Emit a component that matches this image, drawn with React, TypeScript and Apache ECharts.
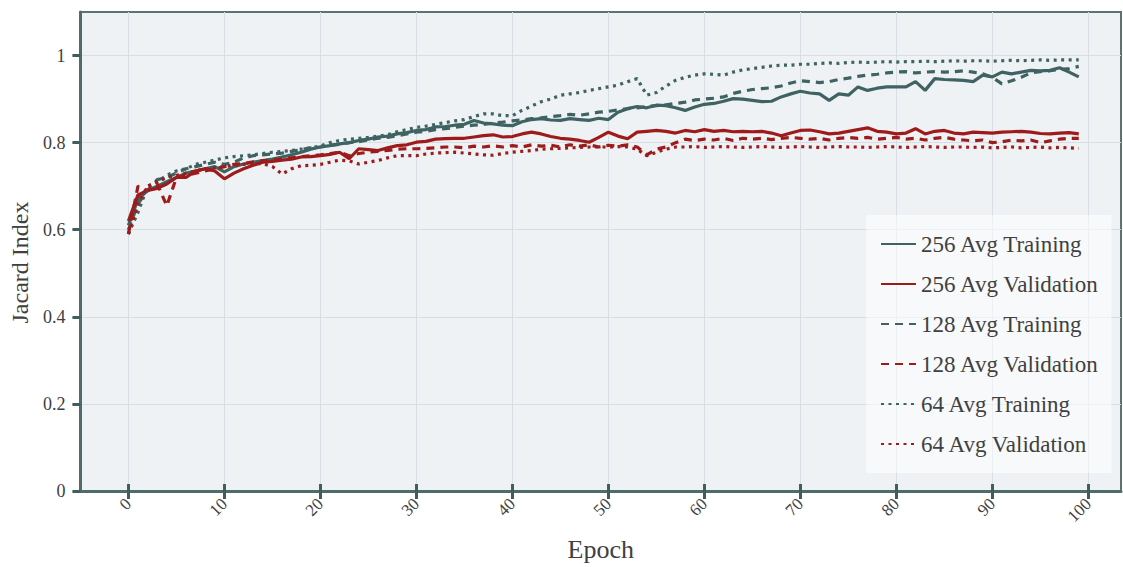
import React, { useEffect, useRef } from "react";
import * as echarts from "echarts";

const SERIES_NAMES = [
  "256 Avg Training",
  "256 Avg Validation",
  "128 Avg Training",
  "128 Avg Validation",
  "64 Avg Training",
  "64 Avg Validation",
];

const X_TICKS = [0, 10, 20, 30, 40, 50, 60, 70, 80, 90, 100];
const Y_TICKS = [0, 0.2, 0.4, 0.6, 0.8, 1];

const train256 = [
  0.61, 0.67, 0.69, 0.7, 0.71, 0.72, 0.73, 0.735, 0.74, 0.745,
  0.733, 0.745, 0.751, 0.755, 0.759, 0.762, 0.767, 0.772, 0.778, 0.785,
  0.79, 0.793, 0.797, 0.8, 0.805, 0.808, 0.813, 0.815, 0.82, 0.823,
  0.828, 0.83, 0.836, 0.837, 0.84, 0.842, 0.851, 0.845, 0.843, 0.84,
  0.839, 0.848, 0.853, 0.855, 0.852, 0.851, 0.855, 0.853, 0.851, 0.856,
  0.853, 0.87, 0.878, 0.883, 0.88, 0.886, 0.885, 0.88, 0.874, 0.882,
  0.888, 0.89, 0.895, 0.901, 0.9, 0.897, 0.894, 0.895, 0.905, 0.912,
  0.918, 0.914, 0.912, 0.897, 0.912, 0.909, 0.928, 0.92, 0.925, 0.928,
  0.928, 0.928, 0.94, 0.92, 0.947, 0.945, 0.944, 0.943, 0.94, 0.955,
  0.951, 0.962, 0.958, 0.962, 0.966, 0.965, 0.966, 0.972, 0.962, 0.951,
];

const val256 = [
  0.62, 0.68, 0.69, 0.695, 0.705, 0.72, 0.72, 0.735, 0.74, 0.735,
  0.717, 0.73, 0.74, 0.748, 0.755, 0.757, 0.76, 0.762, 0.767, 0.768,
  0.77, 0.773, 0.778, 0.763, 0.786, 0.784, 0.782, 0.788, 0.793, 0.795,
  0.801, 0.803, 0.808, 0.809, 0.81, 0.81, 0.813, 0.816, 0.818, 0.813,
  0.814, 0.82, 0.824, 0.82, 0.814, 0.81, 0.808, 0.805, 0.801, 0.812,
  0.824, 0.815, 0.809, 0.824, 0.826, 0.828, 0.826, 0.822, 0.828, 0.825,
  0.83, 0.826, 0.828, 0.825, 0.826, 0.825, 0.826, 0.822, 0.816, 0.822,
  0.828, 0.829, 0.825, 0.82, 0.822, 0.826, 0.83, 0.834, 0.826, 0.824,
  0.82, 0.822, 0.832, 0.82, 0.826, 0.828, 0.822, 0.82, 0.824, 0.823,
  0.822, 0.824, 0.825, 0.826, 0.824, 0.821, 0.82, 0.822, 0.823, 0.82,
];

const train128 = [
  0.6, 0.66, 0.69, 0.715, 0.72, 0.73, 0.74, 0.745, 0.75, 0.755,
  0.75, 0.755, 0.765, 0.77, 0.772, 0.774, 0.776, 0.78, 0.784, 0.788,
  0.79, 0.794, 0.796, 0.8, 0.802, 0.806, 0.81, 0.812, 0.816, 0.82,
  0.824, 0.826, 0.83, 0.832, 0.835, 0.838, 0.84, 0.842, 0.845, 0.847,
  0.85, 0.852, 0.855, 0.857, 0.86, 0.862, 0.865, 0.863, 0.866, 0.87,
  0.872, 0.875, 0.878, 0.88, 0.883, 0.885, 0.887, 0.89, 0.893, 0.898,
  0.9, 0.902, 0.905, 0.913, 0.918, 0.922, 0.924, 0.926, 0.93, 0.937,
  0.942, 0.94, 0.938, 0.94, 0.945, 0.948, 0.952, 0.955, 0.957, 0.96,
  0.962, 0.963, 0.96, 0.962, 0.963, 0.962, 0.963, 0.965, 0.962, 0.958,
  0.95, 0.935, 0.942, 0.95, 0.96, 0.963, 0.965, 0.968, 0.97, 0.975,
];

const val128 = [
  0.59, 0.7, 0.69, 0.705, 0.655, 0.72, 0.725, 0.73, 0.735, 0.74,
  0.745, 0.75, 0.752, 0.756, 0.758, 0.76, 0.762, 0.765, 0.768, 0.77,
  0.772, 0.775, 0.778, 0.77, 0.775, 0.778, 0.78, 0.782, 0.785, 0.786,
  0.786, 0.787, 0.788, 0.79, 0.79, 0.788, 0.792, 0.79, 0.793, 0.79,
  0.793, 0.79, 0.795, 0.792, 0.794, 0.79, 0.795, 0.792, 0.795, 0.79,
  0.794, 0.792, 0.795, 0.79, 0.772, 0.785, 0.79, 0.8, 0.808, 0.805,
  0.808, 0.806, 0.81, 0.805, 0.81, 0.808, 0.81, 0.807, 0.81, 0.812,
  0.81, 0.808, 0.81, 0.806, 0.81, 0.812, 0.81, 0.812, 0.808, 0.81,
  0.812, 0.808, 0.81, 0.806, 0.81, 0.812, 0.808, 0.806, 0.804, 0.806,
  0.8, 0.802, 0.806, 0.804, 0.806, 0.8, 0.804, 0.808, 0.81, 0.81,
];

const train64 = [
  0.59, 0.64, 0.7, 0.71, 0.725, 0.735, 0.74, 0.75, 0.755, 0.76,
  0.765, 0.768, 0.77, 0.772, 0.775, 0.778, 0.78, 0.782, 0.785, 0.788,
  0.792, 0.8, 0.805, 0.808, 0.81, 0.812, 0.815, 0.818, 0.825, 0.83,
  0.835, 0.838, 0.842, 0.846, 0.85, 0.853, 0.86, 0.866, 0.866, 0.862,
  0.862, 0.874, 0.884, 0.894, 0.9, 0.909, 0.912, 0.915, 0.92, 0.924,
  0.928, 0.932, 0.94, 0.947, 0.909, 0.915, 0.93, 0.943, 0.95, 0.955,
  0.958, 0.957, 0.955, 0.962, 0.967, 0.97, 0.973, 0.976, 0.978, 0.978,
  0.98, 0.98, 0.982, 0.983, 0.982, 0.984, 0.985, 0.984, 0.985, 0.986,
  0.985, 0.986, 0.986, 0.987, 0.986, 0.987, 0.988, 0.987, 0.988, 0.988,
  0.987, 0.988, 0.989, 0.988, 0.989, 0.99, 0.989, 0.99, 0.99, 0.99,
];

const val64 = [
  0.59, 0.66, 0.7, 0.71, 0.72, 0.725, 0.73, 0.735, 0.74, 0.742,
  0.745, 0.748, 0.75, 0.752, 0.752, 0.745, 0.728, 0.74, 0.747, 0.748,
  0.75, 0.755, 0.76, 0.758, 0.751, 0.755, 0.759, 0.765, 0.77, 0.77,
  0.77, 0.774, 0.776, 0.777, 0.778, 0.776, 0.774, 0.772, 0.771, 0.775,
  0.778, 0.78, 0.782, 0.785, 0.786, 0.787, 0.788, 0.789, 0.79, 0.79,
  0.79, 0.791, 0.79, 0.785, 0.77, 0.778, 0.785, 0.79, 0.79, 0.791,
  0.789, 0.79, 0.791, 0.79, 0.789, 0.79, 0.791, 0.79, 0.789, 0.79,
  0.791, 0.79, 0.789, 0.79, 0.791, 0.79, 0.79, 0.789, 0.79, 0.791,
  0.79, 0.789, 0.79, 0.791, 0.79, 0.789, 0.79, 0.79, 0.789, 0.79,
  0.788, 0.789, 0.79, 0.788, 0.789, 0.79, 0.788, 0.789, 0.788, 0.787,
];

const SERIES_VALUES = [train256, val256, train128, val128, train64, val64];

const TRAIN_COLOR = "#3f6262";
const VAL_COLOR = "#9e1b1b";
const FONT = "'Liberation Serif', 'Times New Roman', serif";

export default function App() {
  const ref = useRef<HTMLDivElement>(null);

  useEffect(() => {
    if (!ref.current) return;
    const chart = echarts.init(ref.current, undefined, { renderer: "svg" });
    const styles = [
      { color: TRAIN_COLOR, type: "solid" as any },
      { color: VAL_COLOR, type: "solid" as any },
      { color: TRAIN_COLOR, type: [8, 6] as any },
      { color: VAL_COLOR, type: [8, 6] as any },
      { color: TRAIN_COLOR, type: [3, 4.5] as any },
      { color: VAL_COLOR, type: [3, 4.5] as any },
    ];
    const series = SERIES_NAMES.map((name, i) => ({
      name,
      type: "line",
      symbol: "none",
      showSymbol: false,
      data: SERIES_VALUES[i].map((v, e) => [e, v]),
      itemStyle: { color: styles[i].color },
      lineStyle: { color: styles[i].color, width: 3.2, type: styles[i].type },
      z: 3,
    }));

    const axisColor = "#4f6b6b";
    chart.setOption({
      animation: false,
      backgroundColor: "#ffffff",
      textStyle: { fontFamily: FONT },
      grid: {
        left: 76,
        right: 2,
        top: 12,
        bottom: 76,
        show: true,
        backgroundColor: "#eef2f5",
        borderColor: "#5a7373",
        borderWidth: 2,
      },
      legend: {
        orient: "vertical",
        left: 866,
        top: 215,
        itemWidth: 35,
        itemHeight: 14,
        itemGap: 14,
        padding: [16, 12, 16, 14],
        backgroundColor: "rgba(255,255,255,0.55)",
        itemStyle: { color: "rgba(0,0,0,0)", borderColor: "rgba(0,0,0,0)", borderWidth: 0, opacity: 0 },
        textStyle: { fontSize: 23, lineHeight: 26, color: "#404040", fontFamily: FONT },
        data: SERIES_NAMES,
      },
      xAxis: [
        {
          type: "value",
          min: -5,
          max: 103.4,
          splitNumber: 10,
          name: "Epoch",
          nameLocation: "middle",
          nameGap: 45,
          nameTextStyle: { fontSize: 26, color: "#404040", fontFamily: FONT },
          axisLine: { show: true, onZero: false, lineStyle: { color: axisColor, width: 3 } },
          axisTick: { show: true, length: 8, customValues: X_TICKS, lineStyle: { color: "#3f5f5f", width: 3 } },
          axisLabel: {
            customValues: X_TICKS,
            rotate: 45,
            fontSize: 17,
            color: "#404040",
            fontFamily: FONT,
            margin: 10,
          },
          splitLine: { show: true, lineStyle: { color: "#d8dee3", width: 1 } },
        },
        {
          type: "value",
          min: -5,
          max: 103.4,
          splitNumber: 10,
          position: "bottom",
          axisLine: { show: false, onZero: false },
          axisTick: { show: true, inside: true, length: 7, customValues: X_TICKS, lineStyle: { color: "#3f5f5f", width: 3 } },
          axisLabel: { show: false },
          splitLine: { show: false },
        },
      ],
      yAxis: {
        type: "value",
        min: 0,
        max: 1.1,
        interval: 0.2,
        name: "Jacard Index",
        nameLocation: "middle",
        nameGap: 42,
        nameTextStyle: { fontSize: 24, color: "#404040", fontFamily: FONT, padding: [0, 22, 0, 0] },
        axisLine: { show: true, onZero: false, lineStyle: { color: axisColor, width: 3 } },
        axisTick: { show: true, length: 8, customValues: Y_TICKS, lineStyle: { color: "#3f5f5f", width: 3 } },
        axisLabel: {
          customValues: Y_TICKS,
          fontSize: 18,
          color: "#404040",
          fontFamily: FONT,
          margin: 15,
        },
        splitLine: { show: true, lineStyle: { color: "#d8dee3", width: 1 } },
      },
      series,
    });
    return () => chart.dispose();
  }, []);

  return (
    <div
      ref={ref}
      style={{ position: "fixed", left: 0, top: 0, width: 1123, height: 567 }}
    />
  );
}
